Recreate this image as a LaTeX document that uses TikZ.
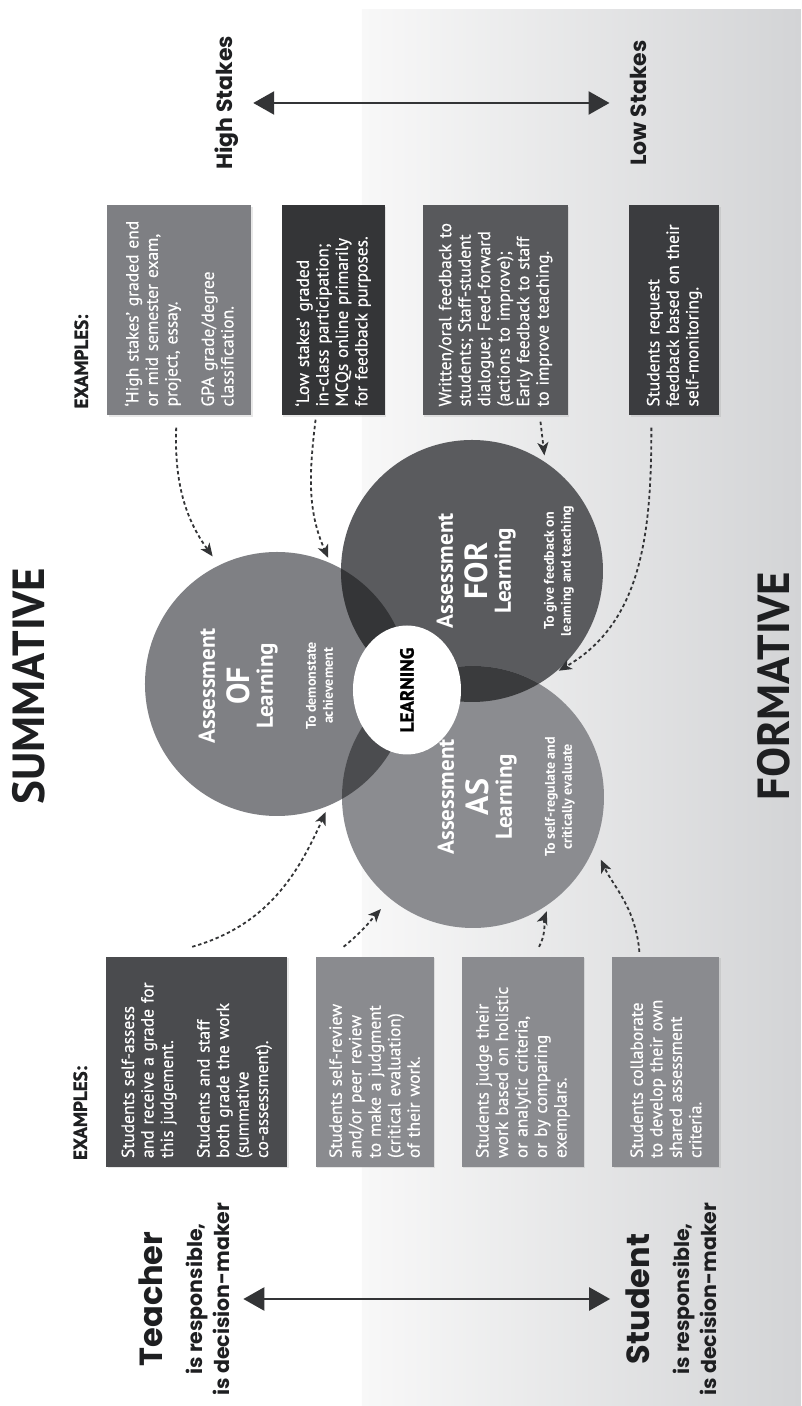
\documentclass[tikz,border=0pt]{standalone}
\usepackage{fontspec}
\setmainfont{PT Sans}
\newfontfamily\headfont{Poppins}
\newfontfamily\boxfont{PT Sans}[FakeBold=0.5]
\newfontfamily\heavyfont{PT Sans}[BoldFeatures={FakeBold=1.2}]
\usetikzlibrary{positioning, arrows.meta, shapes.geometric, shadows}

\definecolor{TitleInk}{HTML}{1E1F21}
\definecolor{InkGray}{HTML}{333436}
\definecolor{OfGray}{HTML}{7F8084}
\definecolor{ForGray}{HTML}{5A5B5E}
\definecolor{AsGray}{HTML}{8B8C90}
\definecolor{OfForGray}{HTML}{343537}
\definecolor{OfAsGray}{HTML}{4B4C4F}
\definecolor{ForAsGray}{HTML}{3A3B3D}
\definecolor{MidBox}{HTML}{7E7F83}
\definecolor{DarkBox}{HTML}{343537}
\definecolor{SlateBox}{HTML}{58595C}
\definecolor{CharBox}{HTML}{3B3C3F}
\definecolor{SelfBox}{HTML}{4A4B4E}
\definecolor{LightBox}{HTML}{8A8B8F}
\definecolor{BgLight}{HTML}{F8F8F8}
\definecolor{BgDark}{HTML}{D3D4D6}

\begin{document}
\begin{tikzpicture}[
  x=1pt, y=1pt, rotate=90, transform shape,
  banner/.style={font=\fontsize{45}{45}\selectfont\bfseries, text=TitleInk, inner sep=0pt, anchor=base},
  role/.style={font=\headfont\bfseries\fontsize{32}{32}\selectfont, text=TitleInk, inner sep=0pt, anchor=base},
  rolesub/.style={font=\headfont\bfseries\fontsize{20.5}{20.5}\selectfont, text=TitleInk, inner sep=0pt, anchor=base},
  stake/.style={font=\headfont\bfseries\fontsize{22}{22}\selectfont, text=TitleInk, inner sep=0pt, anchor=base},
  twoway/.style={{Triangle[length=21pt,width=23pt]}-{Triangle[length=21pt,width=23pt]}, draw=InkGray, line width=2.6pt},
  exlabel/.style={font=\heavyfont\bfseries\fontsize{19}{19}\selectfont, text=TitleInk, inner sep=0pt, anchor=base west},
  exbox/.style={rectangle, anchor=north, text=white, align=left, text width=192pt,
                inner xsep=9pt, inner ysep=0pt, font=\boxfont\fontsize{17.5}{19.5}\selectfont,
                drop shadow={opacity=0.18, shadow xshift=1.5pt, shadow yshift=-1.5pt}},
  venn/.style={circle, inner sep=0pt, outer sep=0pt},
  ctitle/.style={font=\fontsize{23}{23}\selectfont\bfseries, text=white, inner sep=0pt, anchor=base},
  ckind/.style={font=\fontsize{32}{32}\selectfont\bfseries, text=white, inner sep=0pt, anchor=base},
  csub/.style={font=\fontsize{14}{14}\selectfont\bfseries, text=white, inner sep=0pt, anchor=base},
  cue/.style={draw=InkGray, line width=1.8pt, dash pattern=on 3.4pt off 2.8pt,
              -{Stealth[length=13pt,width=11pt,inset=3.5pt]}},
]
  % page and the formative half
  \fill[white] (0,0) rectangle (1406,801);
  \useasboundingbox (0,0) rectangle (1406,801);
  \shade[left color=BgLight, right color=BgDark] (0,0) rectangle (1396,439);

  % headings
  \node[banner] (summ) at (720,756) {SUMMATIVE};
  \node[banner] (form) at (720,11) {FORMATIVE};

  % who decides
  \node[role] (teacher) at (107,638) {Teacher};
  \node[rolesub] (tResp) at ([yshift=-40pt]teacher.base) {is responsible,};
  \node[rolesub] (tDec) at ([yshift=-27pt]tResp.base) {is decision-maker};
  \node[role] (student) at (107,151) {Student};
  \node[rolesub] (sResp) at ([yshift=-40pt]student.base) {is responsible,};
  \node[rolesub] (sDec) at ([yshift=-27pt]sResp.base) {is decision-maker};
  \draw[twoway, shorten <=13pt, shorten >=16pt] (tDec.south) -- (student.north);

  % stakes
  \node[stake] (high) at (1303,568) {High Stakes};
  \node[stake] (low) at (1303,154) {Low Stakes};
  \draw[twoway, shorten <=14pt, shorten >=21pt] (high.south) -- (low.north);

  % venn circles
  \node[venn, minimum size=264pt, fill=OfGray] (of) at (722,524) {};
  \node[venn, minimum size=262pt, fill=ForGray] (for) at (835,329) {};
  \node[venn, minimum size=262pt, fill=AsGray] (as) at (609,328) {};
  \begin{scope}
    \clip (of.center) circle[radius=132];
    \fill[OfForGray] (for.center) circle[radius=131];
    \fill[OfAsGray] (as.center) circle[radius=131];
  \end{scope}
  \begin{scope}
    \clip (for.center) circle[radius=131];
    \fill[ForAsGray] (as.center) circle[radius=131];
  \end{scope}
  \node[ellipse, fill=white, minimum width=129pt, minimum height=108pt, inner sep=0pt,
        font=\heavyfont\bfseries\fontsize{19}{19}\selectfont, text=black] (learn) at (716,394) {LEARNING};

  \foreach \c/\cx/\cb/\kind/\subA/\subB in {
      of/720/586/OF/To demonstate/achievement,
      for/835/348/FOR/To give feedback on/learning and teaching,
      as/609/347/AS/To self-regulate and/critically evaluate} {
    \node[ctitle] (\c-a) at (\cx,\cb) {Assessment};
    \node[ckind] (\c-k) at (\cx,\cb-35) {\kind};
    \node[ctitle] (\c-l) at (\cx,\cb-58) {Learning};
    \node[csub] (\c-s) at (\cx,\cb-101) {\subA};
    \node[csub] (\c-t) at (\cx,\cb-118) {\subB};
  }

  % examples, high/low stakes side
  \node[exbox, fill=MidBox, minimum height=144pt] (exHigh) at (1095.5,694)
    {‘High stakes’ graded end\\ or mid semester exam,\\ project, essay.\\[17pt] GPA grade/degree\\ classification.};
  \node[exbox, fill=DarkBox, minimum height=103pt, below=30pt of exHigh] (exLow)
    {‘Low stakes’ graded\\ in-class participation;\\ MCQs online primarily\\ for feedback purposes.};
  \node[exbox, fill=SlateBox, minimum height=145pt, below=38pt of exLow] (exFeed)
    {Written/oral feedback to\\ students; Staff-student\\ dialogue; Feed-forward\\ (actions to improve);\\ Early feedback to staff\\ to improve teaching.};
  \node[exbox, fill=CharBox, minimum height=90pt, below=61pt of exFeed] (exReq)
    {Students request\\ feedback based on their\\ self-monitoring.};
  \node[exlabel] (exTopR) at ([xshift=7pt, yshift=19pt]exHigh.north west) {EXAMPLES:};

  % examples, teacher/student side
  \node[exbox, fill=SelfBox, minimum height=181pt] (exSelf) at (344,695)
    {Students self-assess\\ and receive a grade for\\ this judgement.\\[17pt] Students and staff\\ both grade the work\\ (summative\\ co-assessment).};
  \node[exbox, fill=LightBox, minimum height=118pt, below=28pt of exSelf] (exReview)
    {Students self-review\\ and/or peer review\\ to make a judgment\\ (critical evaluation)\\ of their work.};
  \node[exbox, fill=LightBox, minimum height=122pt, below=28pt of exReview] (exJudge)
    {Students judge their\\ work based on holistic\\ or analytic criteria,\\ or by comparing\\ exemplars.};
  \node[exbox, fill=LightBox, minimum height=107pt, below=28pt of exJudge] (exCollab)
    {Students collaborate\\ to develop their own\\ shared assessment\\ criteria.};
  \node[exlabel] (exTopL) at ([xshift=7pt, yshift=19pt]exSelf.north west) {EXAMPLES:};

  % dashed cues into the circles
  \draw[cue, shorten >=11pt] ([xshift=-12pt, yshift=3pt]exHigh.west) to[out=178, in=36] (of.26);
  \draw[cue, shorten >=6pt] ([xshift=-4pt, yshift=17.5pt]exLow.west) to[out=173, in=24] (of.-24);
  \draw[cue, shorten >=7pt] ([xshift=-6pt, yshift=-45pt]exFeed.west) -- (for.-34);
  \draw[cue, shorten >=7pt] ([xshift=-12pt, yshift=23pt]exReq.west) to[out=180, in=-60] (for.218);
  \draw[cue, shorten >=7pt] ([xshift=10pt, yshift=4.5pt]exSelf.east) to[out=-74, in=156] (of.203.6);
  \draw[cue, shorten >=14pt] ([xshift=10pt, yshift=31pt]exReview.east) to[out=-51, in=137] (as.141);
  \draw[cue, shorten >=9pt] ([xshift=10pt, yshift=-16pt]exJudge.east) to[out=-28, in=159] (as.216);
  \draw[cue, shorten >=15pt] ([xshift=5pt, yshift=26.5pt]exCollab.east) to[out=5, in=205] (as.248);
\end{tikzpicture}
\end{document}
